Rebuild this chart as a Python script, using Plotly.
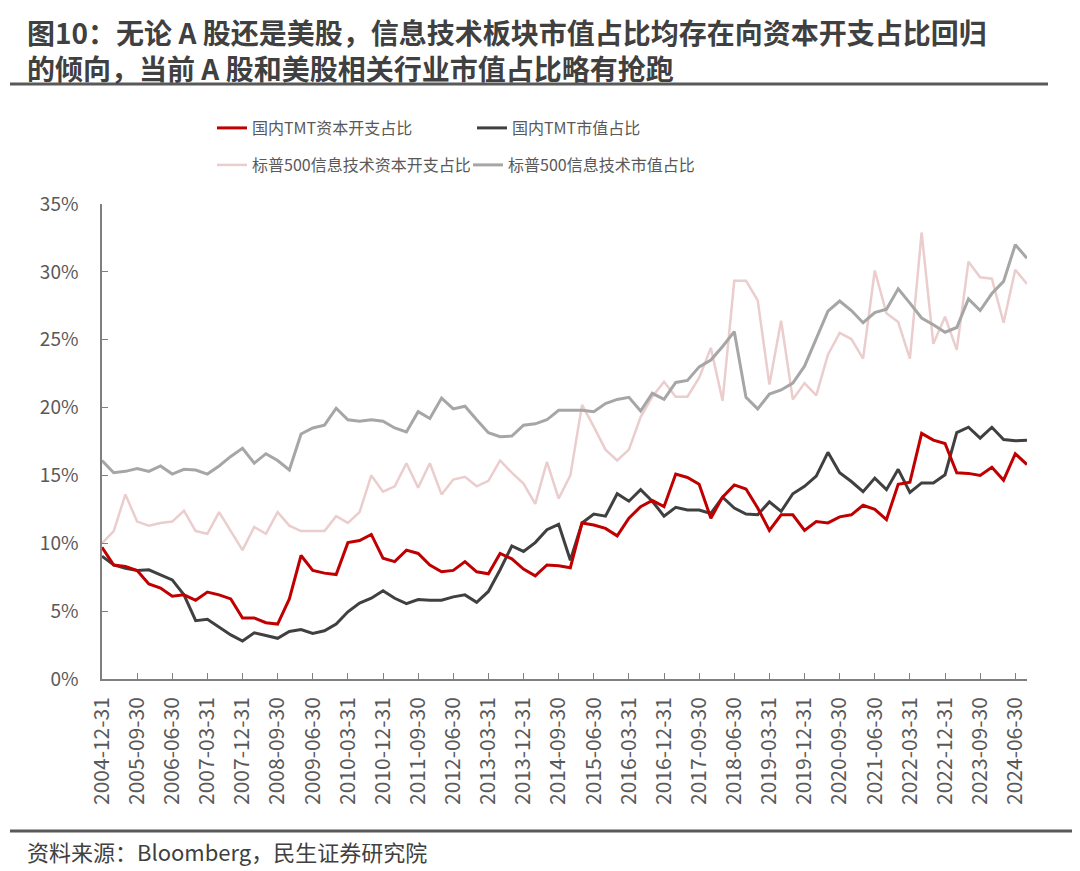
import plotly.graph_objects as go

# quarterly dates 2004-12-31 .. 2024-09-30
QUARTER_ENDS = ["03-31", "06-30", "09-30", "12-31"]
dates = ["2004-12-31"] + [f"{y}-{q}" for y in range(2005, 2025) for q in QUARTER_ENDS]
dates = dates[:80]

tmt_capex = [
    9.7, 8.4, 8.3, 8.0, 7.0, 6.7, 6.1, 6.2, 5.8, 6.4,
    6.2, 5.9, 4.5, 4.5, 4.15, 4.05, 5.9, 9.1, 8.0, 7.8,
    7.7, 10.05, 10.2, 10.65, 8.9, 8.65, 9.5, 9.25, 8.4, 7.9,
    8.0, 8.65, 7.9, 7.75, 9.25, 8.85, 8.1, 7.6, 8.4, 8.35,
    8.2, 11.5, 11.35, 11.1, 10.55, 11.85, 12.7, 13.15, 12.7, 15.1,
    14.85, 14.35, 11.85, 13.4, 14.3, 14.0, 12.6, 10.95, 12.1, 12.1,
    10.95, 11.6, 11.5, 11.95, 12.1, 12.8, 12.5, 11.75, 14.35, 14.5,
    18.1, 17.6, 17.35, 15.2, 15.15, 15.0, 15.6, 14.65, 16.6, 15.8,
]
tmt_mcap = [
    9.05, 8.4, 8.15, 8.0, 8.05, 7.7, 7.3, 6.2, 4.3, 4.4,
    3.85, 3.25, 2.8, 3.4, 3.2, 3.0, 3.5, 3.65, 3.35, 3.55,
    4.05, 4.95, 5.6, 5.95, 6.5, 5.95, 5.55, 5.85, 5.8, 5.8,
    6.05, 6.2, 5.65, 6.45, 8.05, 9.8, 9.4, 10.05, 11.0, 11.4,
    8.75, 11.5, 12.15, 12.0, 13.65, 13.1, 13.95, 13.1, 12.0, 12.65,
    12.45, 12.45, 12.2, 13.4, 12.6, 12.15, 12.1, 13.05, 12.35, 13.65,
    14.2, 14.95, 16.7, 15.2, 14.55, 13.8, 14.8, 13.95, 15.45, 13.75,
    14.45, 14.45, 15.05, 18.15, 18.55, 17.75, 18.55, 17.65, 17.55, 17.6,
]
sp_capex = [
    10.0, 10.9, 13.6, 11.6, 11.3, 11.5, 11.6, 12.4, 10.9, 10.7,
    12.3, 10.9, 9.5, 11.2, 10.7, 12.3, 11.3, 10.9, 10.9, 10.9,
    12.0, 11.5, 12.3, 15.0, 13.8, 14.2, 15.9, 14.1, 15.9, 13.6,
    14.7, 14.9, 14.2, 14.6, 16.1, 15.2, 14.4, 12.9, 16.0, 13.3,
    15.0, 20.2, 18.6, 16.9, 16.1, 16.9, 19.3, 20.8, 21.9, 20.8,
    20.8, 22.2, 24.4, 20.5, 29.35, 29.35, 27.9, 21.7, 26.4, 20.6,
    21.8, 20.9, 23.9, 25.5, 25.05, 23.6, 30.1, 26.95, 26.3, 23.6,
    32.9, 24.7, 26.7, 24.25, 30.75, 29.6, 29.5, 26.25, 30.15, 29.1,
]
sp_mcap = [
    16.1, 15.2, 15.3, 15.5, 15.3, 15.7, 15.1, 15.45, 15.4, 15.1,
    15.7, 16.4, 17.0, 15.9, 16.6, 16.1, 15.4, 18.05, 18.5, 18.7,
    19.95, 19.1, 19.0, 19.1, 19.0, 18.5, 18.2, 19.7, 19.2, 20.7,
    19.9, 20.1, 19.1, 18.15, 17.85, 17.9, 18.7, 18.8, 19.1, 19.8,
    19.8, 19.8, 19.7, 20.3, 20.6, 20.75, 19.75, 21.05, 20.6, 21.85,
    22.0, 23.0, 23.5, 24.5, 25.6, 20.75, 19.9, 21.0, 21.3, 21.8,
    23.05, 25.1, 27.1, 27.85, 27.15, 26.25, 27.0, 27.25, 28.75, 27.7,
    26.6, 26.1, 25.55, 25.9, 28.0, 27.15, 28.4, 29.3, 32.0, 31.0,
]

FONT = "Noto Sans CJK SC"
TEXT_GREY = "#595959"

# page body has an 8px margin, so the figure is laid out in screen pixels minus 8
OFF = 8
W, H = 1080 - OFF, 871 - OFF
L, R, T, B = 102 - OFF, 1080 - 1027, 204 - OFF, 871 - 679
PW, PH = W - L - R, H - T - B


def px(sx):
    return (sx - OFF - L) / PW


def py(sy):
    return (H - B - (sy - OFF)) / PH


series = [
    ("国内TMT资本开支占比", tmt_capex, "#C00000", 3, "legend", 212, 128),
    ("国内TMT市值占比", tmt_mcap, "#404040", 3, "legend2", 472, 128),
    ("标普500信息技术资本开支占比", sp_capex, "#EBCDCD", 2.5, "legend3", 212, 165),
    ("标普500信息技术市值占比", sp_mcap, "#A6A6A6", 3, "legend4", 468, 165),
]
# draw order: light lines underneath
order = [2, 3, 1, 0]

fig = go.Figure()
for k in order:
    name, vals, color, width, leg, _, _ = series[k]
    fig.add_trace(go.Scatter(
        x=dates, y=vals, name=name, mode="lines", legend=leg, showlegend=True,
        line=dict(color=color, width=width),
    ))

legends = {}
for name, vals, color, width, leg, lx, ly in series:
    legends[leg] = dict(
        x=px(lx), y=py(ly), xanchor="left", yanchor="middle",
        orientation="h", bgcolor="rgba(0,0,0,0)", borderwidth=0,
        font=dict(family=FONT, size=16, color=TEXT_GREY), itemwidth=30,
    )

annotations = [
    dict(text="<b>图10：无论 A 股还是美股，信息技术板块市值占比均存在向资本开支占比回归</b><br>"
              "<b>的倾向，当前 A 股和美股相关行业市值占比略有抢跑</b>",
         x=px(25), y=py(50), xanchor="left", yanchor="middle", align="left",
         xref="paper", yref="paper", showarrow=False,
         font=dict(family=FONT, size=28, color="#404040")),
    dict(text="资料来源：Bloomberg，民生证券研究院", x=px(25), y=py(851),
         xref="paper", yref="paper", xanchor="left", yanchor="middle", showarrow=False,
         font=dict(family=FONT, size=22, color="#404040")),
]

shapes = [
    dict(type="line", xref="paper", yref="paper", x0=px(10), x1=px(1048), y0=py(84), y1=py(84),
         line=dict(color="#595959", width=3)),
    dict(type="line", xref="paper", yref="paper", x0=px(10), x1=px(1080), y0=py(831), y1=py(831),
         line=dict(color="#595959", width=3)),
]

fig.update_layout(
    width=W, height=H,
    margin=dict(l=L, r=R, t=T, b=B),
    paper_bgcolor="white", plot_bgcolor="white",
    showlegend=True,
    font=dict(family=FONT, color=TEXT_GREY),
    annotations=annotations, shapes=shapes,
    **legends,
    xaxis=dict(
        type="category", range=[0, len(dates) - 1],
        tickmode="array", tickvals=dates[::3], ticktext=dates[::3],
        tickangle=-90, ticks="inside", ticklen=6, tickcolor="#7F7F7F",
        showline=True, linecolor="#7F7F7F", linewidth=1.5,
        showgrid=False, zeroline=False, ticklabelstandoff=8,
        tickfont=dict(family=FONT, size=21, color=TEXT_GREY),
    ),
    yaxis=dict(
        range=[0, 35], dtick=5, ticksuffix="%",
        ticks="inside", ticklen=6, tickcolor="#7F7F7F",
        showline=True, linecolor="#7F7F7F", linewidth=1.5,
        showgrid=False, zeroline=False, ticklabelstandoff=18,
        tickfont=dict(family=FONT, size=19, color=TEXT_GREY),
    ),
)

fig.write_html("out.html")
